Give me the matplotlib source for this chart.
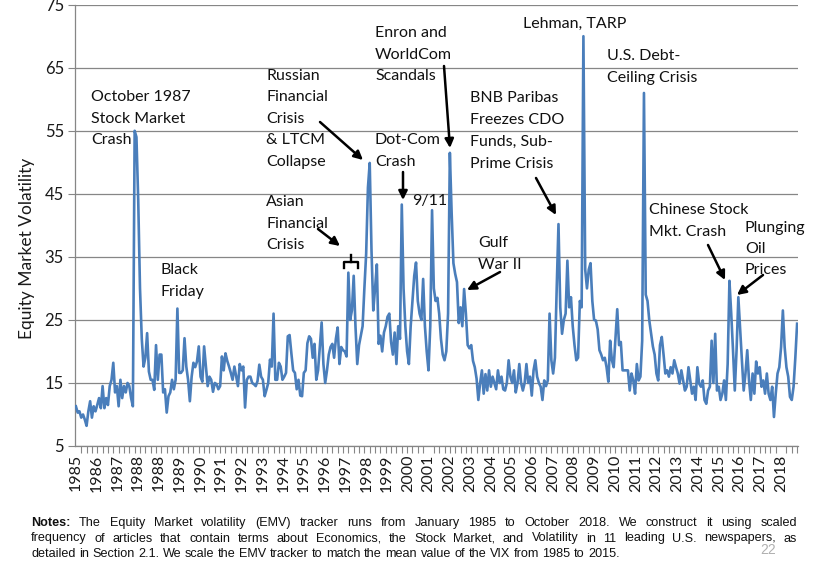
import numpy as np
import matplotlib
matplotlib.use("Agg")
import matplotlib.pyplot as plt
from matplotlib import font_manager as fm
from matplotlib.lines import Line2D

# ---------------- data (monthly EMV tracker, Jan 1985 - Oct 2018) ----------------
emv_1985_1991 = [
    11.3, 10.3, 10.5, 9.5, 10, 9.2, 8.2, 10.5, 12.1, 9.5, 11.3, 10.5,
    11.5, 12.6, 11, 14.5, 11, 12.6, 11.5, 14.5, 15.5, 18.2, 13.5, 14.5,
    11.3, 15.5, 12.6, 14.5, 13.5, 15, 14.5, 12.6, 11.3, 55, 54, 44,
    30, 22, 17.6, 19, 22.9, 16.8, 15.5, 15.5, 13.9, 21, 15.5, 19.5,
    19.5, 13.5, 14, 10.3, 12.9, 13.5, 15.5, 14, 15.5, 26.8, 16.6, 16.6,
    17, 22.1, 17.6, 15.5, 12.1, 16, 18.2, 17.5, 18.4, 20.8, 16, 15.2,
    20.8, 17.6, 14.5, 16, 15.5, 13.6, 15, 14.8, 14, 14.5, 19.2, 17,
]
emv_1992_1998 = [
    19.7, 18.5, 17.6, 16.6, 15.5, 17.6, 16, 14.5, 18, 17, 17.6, 11.1,
    15.5, 16, 16, 15, 14.8, 14.5, 15.3, 17.9, 16, 15.5, 12.9, 13.9,
    15, 18.7, 17.6, 26, 15.5, 15.5, 18.2, 17.6, 15.5, 16, 16.6, 22.4,
    22.6, 19.7, 17, 16.6, 14, 15.5, 13, 12.9, 16.6, 17, 21.3, 22.4,
    22, 19, 21.2, 15.5, 17, 20.7, 24.6, 18, 15, 17, 19.5, 20.7,
    21.2, 19, 22, 23.8, 18, 20.7, 20.2, 20, 19.2, 32.5, 25, 26.5,
    32, 24, 18, 21, 22.5, 24, 30, 35.5, 46, 49.9, 36, 26.5,
]
emv_1999_2005 = [
    30, 33.8, 21.2, 22.5, 20, 23, 24, 25.5, 26, 21.5, 19.5, 23,
    18, 24, 22, 43.3, 30, 24, 20, 18, 24, 28, 32, 34.1,
    28, 26, 25, 31.5, 24, 20, 17, 24, 42.4, 30, 28, 28.5,
    26, 22, 19.5, 18.6, 20, 26, 51.5, 42, 34, 32.3, 31, 24.5,
    27, 24, 29.9, 26, 21, 20.5, 21, 18.5, 17.5, 15.7, 12.3, 15,
    17, 13.3, 16.4, 13.8, 17, 14.4, 16, 15, 14, 17, 15, 16,
    14, 13.8, 15, 18.6, 16, 15, 17, 13.5, 15, 18, 15, 13.8,
]
emv_2006_2012 = [
    15, 18, 15, 16, 13, 17, 18.6, 16, 15, 14.4, 12.3, 15.4,
    14.5, 15.4, 26, 18.6, 16.5, 19, 30, 40.2, 27, 22.8, 25, 26,
    34.4, 27, 28.6, 24, 21, 18.6, 19, 28, 27, 70, 33, 30,
    33, 34, 28, 25, 24.9, 23.5, 20.2, 19.5, 18.6, 19, 17.5, 15.2,
    21.7, 18.6, 17.5, 22, 26.7, 21, 21.5, 17, 17, 17, 17, 13.8,
    16.5, 15.4, 13.3, 18, 15.4, 16, 21.7, 61, 29, 28, 24.9, 22.8,
    20.8, 19.5, 16.5, 15.4, 21, 22.3, 19.5, 16.5, 17, 16, 17.5, 16.5,
]
emv_2013_2018 = [
    18.6, 17.5, 16.5, 14.9, 17, 15.4, 13.8, 14.4, 17.5, 15.4, 13.3, 14.4,
    12.3, 17.5, 14.9, 14.4, 15.4, 12.3, 11.7, 13.8, 14.4, 21.7, 15, 22.8,
    13.8, 14.4, 12.3, 13.3, 15.4, 12.3, 18, 31.2, 26, 20.2, 13.8, 20.2,
    28.6, 23.5, 18.6, 13.8, 16.5, 20.2, 15.4, 12.3, 16.5, 13.3, 18.4, 16.5,
    17.5, 14.4, 15.4, 13.3, 16.5, 13.3, 12.3, 14.4, 9.6, 13.3, 16.5, 17.5,
    20.7, 26.5, 20.7, 17.5, 16, 12.8, 12.3, 14.4, 19, 24.4,
]
year_labels = ["1985", "1986", "1987", "1988", "1988", "1989", "1990", "1991",
               "1992", "1993", "1994", "1995", "1996", "1997", "1998", "1999",
               "2000", "2001", "2002", "2003", "2004", "2005", "2006", "2007",
               "2008", "2009", "2010", "2011", "2012", "2013", "2014", "2015",
               "2016", "2017", "2018"]
y_ticks = [5, 15, 25, 35, 45, 55, 65, 75]

emv = np.array(emv_1985_1991 + emv_1992_1998 + emv_1999_2005 + emv_2006_2012 + emv_2013_2018)
months = np.arange(len(emv))

# ---------------- fonts ----------------
def have(name):
    try:
        fm.findfont(fm.FontProperties(family=name), fallback_to_default=False)
        return True
    except Exception:
        return False

MAIN = "Lato" if have("Lato") else "DejaVu Sans"
if have("Liberation Sans Narrow"):
    NOTE, NOTE_SIZE = "Liberation Sans Narrow", 10
else:
    NOTE, NOTE_SIZE = "Liberation Sans", 9.1

# ---------------- figure ----------------
W, H = 823, 574
fig = plt.figure(figsize=(W / 100, H / 100), dpi=100)
fig.patch.set_facecolor("white")

def fx(x):
    return x / W

def fy(y):
    return 1 - y / H

ax = fig.add_axes([fx(75), fy(446), fx(798) - fx(75), fy(4.7) - fy(446)])
GRID = "#868686"
ax.plot(months, emv, color="#4A7EBB", lw=1.9, solid_joinstyle="round", zorder=3)
ax.set_xlim(-0.5, len(emv) - 0.5)
ax.set_ylim(5, 75)
ax.set_yticks(y_ticks)
ax.set_yticklabels([str(v) for v in y_ticks], fontsize=12, family=MAIN)
ax.yaxis.grid(True, color=GRID, lw=0.9)
ax.set_axisbelow(True)

label_pos = np.linspace(0, 396, len(year_labels))
ax.set_xticks(label_pos)
ax.set_xticklabels(year_labels, rotation=90, fontsize=11.5, family=MAIN)
ax.set_xticks(np.arange(0, len(emv), 3), minor=True)
ax.tick_params(axis="x", which="major", length=0, pad=6, colors="#1a1a1a")
ax.tick_params(axis="x", which="minor", length=5, width=0.8, color=GRID)
ax.tick_params(axis="y", length=5, width=0.8, color=GRID, pad=3, labelcolor="#1a1a1a")
for s in ("top", "right"):
    ax.spines[s].set_visible(False)
for s in ("left", "bottom"):
    ax.spines[s].set_color(GRID)
    ax.spines[s].set_linewidth(0.9)

fig.text(fx(27), fy(248), "Equity Market Volatility", rotation=90, ha="center",
         va="center", fontsize=12.5, family=MAIN, color="#1a1a1a")

# ---------------- annotations ----------------
ANN = dict(fontsize=11.5, family=MAIN, color="#111111", ha="left", va="center")

def note(x, y, s):
    fig.text(fx(x), fy(y), s, **ANN)

def block(x, y_first, lines, step=21.7):
    for i, s in enumerate(lines):
        note(x, y_first + i * step, s)

def arrow(x0, y0, x1, y1):
    fig.add_artist(matplotlib.patches.FancyArrowPatch(
        (fx(x0), fy(y0)), (fx(x1), fy(y1)), transform=fig.transFigure,
        arrowstyle="-|>", mutation_scale=13, lw=1.8, color="black",
        shrinkA=0, shrinkB=0))

block(91, 97, ["October 1987", "Stock Market", "Crash"])
block(160, 270, ["Black", "Friday"])
block(266, 76, ["Russian", "Financial", "Crisis", "& LTCM", "Collapse"], step=21.4)
block(266, 202, ["Asian", "Financial", "Crisis"])
block(375, 33, ["Enron and", "WorldCom", "Scandals"])
block(375, 140, ["Dot-Com", "Crash"])
note(412, 201, "9/11")
block(478, 243, ["Gulf", "War II"])
block(470, 98, ["BNB Paribas", "Freezes CDO", "Funds, Sub-", "Prime Crisis"], step=22)
note(523, 24, "Lehman, TARP")
block(607, 56, ["U.S. Debt-", "Ceiling Crisis"])
block(649, 210, ["Chinese Stock", "Mkt. Crash"])
block(745, 228, ["Plunging", "Oil", "Prices"], step=21)

arrow(320, 122, 363, 160)
arrow(318, 229, 340, 246)
arrow(403, 172, 403, 200)
arrow(444, 66, 450, 148)
arrow(500, 272, 467, 290)
arrow(536, 178, 556, 215)
arrow(708, 245, 725, 280)
arrow(763, 275, 737, 295)

# bracket over the Asian-crisis double peak
for xs, ys in (([343.5, 343.5, 357.5, 357.5], [268, 262, 262, 268]),
               ([350.5, 350.5], [262, 255])):
    fig.add_artist(Line2D([fx(v) for v in xs], [fy(v) for v in ys],
                          transform=fig.transFigure, color="black", lw=1.7))

# ---------------- notes (justified) ----------------
renderer = fig.canvas.get_renderer()

def text_line(words, x0, x1, y, justify):
    arts = []
    for w, wt in words:
        arts.append(fig.text(fx(x0), fy(y), w, fontsize=NOTE_SIZE, family=NOTE,
                             weight=wt, ha="left", va="center", color="#111111"))
    widths = [a.get_window_extent(renderer).width for a in arts]
    if justify and len(arts) > 1:
        gap = (x1 - x0 - sum(widths)) / (len(arts) - 1)
    else:
        sp = fig.text(0, 0, "a a", fontsize=NOTE_SIZE, family=NOTE)
        sp2 = fig.text(0, 0, "aa", fontsize=NOTE_SIZE, family=NOTE)
        gap = sp.get_window_extent(renderer).width - sp2.get_window_extent(renderer).width
        sp.remove()
        sp2.remove()
    x = x0
    for a, wd in zip(arts, widths):
        a.set_x(fx(x))
        x += wd + gap

l1 = [("Notes:", "bold")] + [(w, "normal") for w in
      "The Equity Market volatility (EMV) tracker runs from January 1985 to October 2018. We construct it using scaled".split()]
l2 = [(w, "normal") for w in
      "frequency of articles that contain terms about Economics, the Stock Market, and Volatility in 11 leading U.S. newspapers, as".split()]
l3 = [(w, "normal") for w in
      "detailed in Section 2.1. We scale the EMV tracker to match the mean value of the VIX from 1985 to 2015.".split()]
text_line(l1, 31, 797, 523, True)
text_line(l2, 31, 797, 538.5, True)
text_line(l3, 31, 797, 554, False)

fig.text(fx(768), fy(550), "22", fontsize=10, family=NOTE, color="#b0b0b0",
         ha="center", va="center")

fig.savefig("out.png", dpi=100, facecolor="white")
